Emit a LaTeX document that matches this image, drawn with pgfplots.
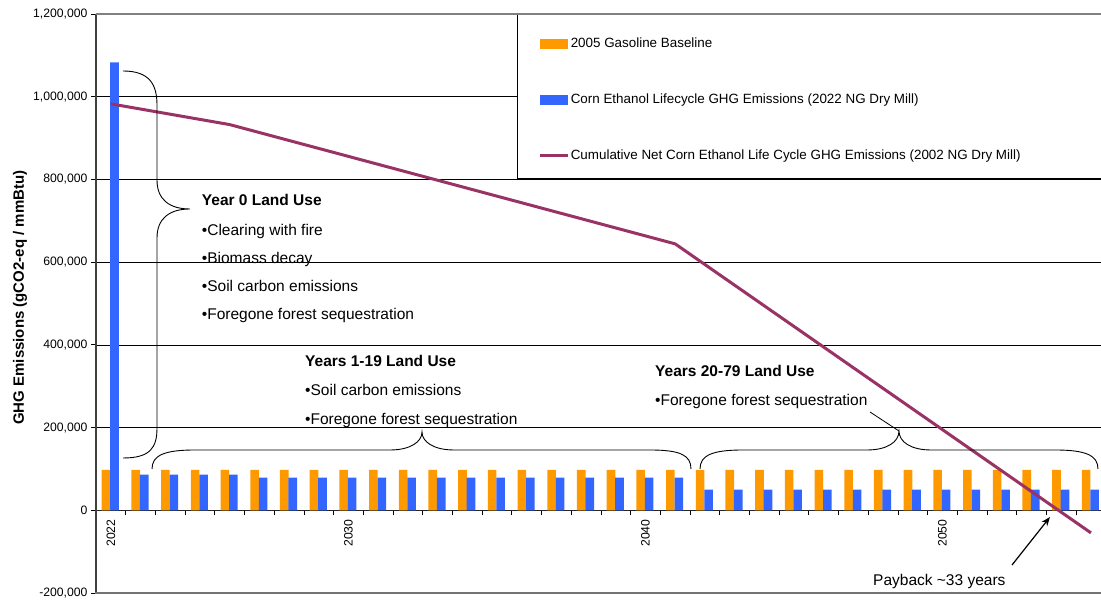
\documentclass[border=0pt]{standalone}
\usepackage{fontspec}
\setmainfont{Liberation Sans}
\usepackage{pgfplots}
\pgfplotsset{compat=1.18}
\usetikzlibrary{arrows.meta}
\definecolor{orange9}{HTML}{FF9900}
\definecolor{blue9}{HTML}{3366FF}
\definecolor{plum9}{HTML}{993366}
\newcommand{\annfont}{\fontsize{15.5bp}{18bp}\selectfont}
\begin{document}
\begin{tikzpicture}
\begin{axis}[
  name=ax, scale only axis, width=1005bp, height=579bp,
  xmin=-0.5, xmax=33.338, ymin=-200000, ymax=1200000,
  axis x line=middle, axis y line=left,
  x axis line style={-, black!85, line width=1.3bp},
  y axis line style={-, black!75, line width=1.5bp},
  xtick={0.5,1.5,...,32.5}, xticklabels={},
  extra x ticks={0,8,18,28}, extra x tick labels={2022,2030,2040,2050},
  extra x tick style={major tick length=0pt, tick label style={rotate=90, anchor=east, font=\fontsize{12.2bp}{14bp}\selectfont, inner sep=0pt, xshift=-9bp}},
  ytick={-200000,0,200000,400000,600000,800000,1000000,1200000},
  yticklabels={{-200,000},{0},{200,000},{400,000},{600,000},{800,000},{1,000,000},{1,200,000}},
  scaled y ticks=false,
  yticklabel style={font=\fontsize{12.2bp}{14bp}\selectfont},
  tick align=outside, major tick length=5bp,
  tick style={black, line width=0.8bp},
  ymajorgrids, major grid style={black, line width=0.6bp},
  ylabel={GHG Emissions (gCO2-eq / mmBtu)},
  ylabel style={font=\bfseries\fontsize{15bp}{17bp}\selectfont, at={(axis description cs:-0.0756,0.51)}, anchor=center},
  legend style={at={(rel axis cs:0.4408,0.9602)}, anchor=north west, draw=none, fill=none,
    inner sep=0pt, outer sep=0pt, font=\fontsize{13.4bp}{15bp}\selectfont, row sep=41bp,
    nodes={inner sep=0.8bp, text height=10bp, text depth=3bp}},
  legend cell align=left,
]
\draw[fill=white, draw=black, line width=0.8bp] (rel axis cs:0.4189,0.7168) rectangle (rel axis cs:1.05,1.05);
\addplot[ybar, bar width=8.6bp, bar shift=-4.8bp, fill=orange9, draw=none,
  legend image code/.code={\fill[orange9] (0bp,-5bp) rectangle (28bp,5bp);}]
  coordinates {(0,98000) (1,98000) (2,98000) (3,98000) (4,98000) (5,98000) (6,98000) (7,98000) (8,98000) (9,98000) (10,98000) (11,98000) (12,98000) (13,98000) (14,98000) (15,98000) (16,98000) (17,98000) (18,98000) (19,98000) (20,98000) (21,98000) (22,98000) (23,98000) (24,98000) (25,98000) (26,98000) (27,98000) (28,98000) (29,98000) (30,98000) (31,98000) (32,98000) (33,98000)};
\addplot[ybar, bar width=8.6bp, bar shift=3.7bp, fill=blue9, draw=none,
  legend image code/.code={\fill[blue9] (0bp,-5bp) rectangle (28bp,5bp);}]
  coordinates {(0,1083000) (1,86000) (2,86000) (3,86000) (4,86000) (5,79000) (6,79000) (7,79000) (8,79000) (9,79000) (10,79000) (11,79000) (12,79000) (13,79000) (14,79000) (15,79000) (16,79000) (17,79000) (18,79000) (19,79000) (20,50000) (21,50000) (22,50000) (23,50000) (24,50000) (25,50000) (26,50000) (27,50000) (28,50000) (29,50000) (30,50000) (31,50000) (32,50000) (33,50000)};
\addplot[plum9, line width=3bp, line join=round, mark=none,
  legend image code/.code={\draw[plum9, line width=3bp] (0bp,0bp) -- (28bp,0bp);}]
  coordinates {(0,982700) (4,932600) (19,644200) (33,-54600)};
\legend{2005 Gasoline Baseline, Corn Ethanol Lifecycle GHG Emissions (2022 NG Dry Mill), Cumulative Net Corn Ethanol Life Cycle GHG Emissions (2002 NG Dry Mill)}
\end{axis}
\begin{scope}[shift={(ax.north west)}]
\begin{scope}[x=1bp, y=-1bp, shift={(-96,-14)}]
  \draw[black!50, line width=2bp] (96,14) -- (1110,14);
  \draw[black!55, line width=2.5bp] (95,593) -- (1110,593);
  % braces
  \draw[black, line width=0.9bp] (123,71) .. controls (150,71) and (157,85) .. (157,105) -- (157,180)
     .. controls (157,200) and (170,209) .. (190,209)
     .. controls (170,209) and (157,218) .. (157,238) -- (157,428)
     .. controls (157,448) and (150,458) .. (123,458);
  \draw[black, line width=0.9bp] (152,469) .. controls (152,455) and (165,450) .. (195,450) -- (390,450)
     .. controls (410,450) and (422,442) .. (422,432)
     .. controls (422,442) and (434,450) .. (454,450) -- (650,450)
     .. controls (680,450) and (691,455) .. (691,469);
  \draw[black, line width=0.9bp] (700,469) .. controls (700,455) and (713,450) .. (743,450) -- (867,450)
     .. controls (887,450) and (899,442) .. (899,431)
     .. controls (899,442) and (911,450) .. (931,450) -- (1055,450)
     .. controls (1085,450) and (1098,455) .. (1098,469);
  \draw[black, line width=0.8bp] (870,412) -- (899,431);
  \draw[black, line width=1.2bp, -{Stealth[length=9bp,width=7bp]}] (1012,565) -- (1050,517);
  % texts
  \begin{scope}[every node/.style={anchor=base west, inner sep=0pt, font=\annfont}]
  \node at (201.7,205.5) {\bfseries Year 0 Land Use};
  \node at (201.7,235.5) {•Clearing with fire};
  \node at (201.7,263.5) {•Biomass decay};
  \node at (201.7,291.5) {•Soil carbon emissions};
  \node at (201.7,319.5) {•Foregone forest sequestration};
  \node at (305,367) {\bfseries Years 1-19 Land Use};
  \node at (305,396) {•Soil carbon emissions};
  \node at (305,424.5) {•Foregone forest sequestration};
  \node at (655,377) {\bfseries Years 20-79 Land Use};
  \node at (655,405.5) {•Foregone forest sequestration};
  \node at (873,585.5) {Payback \textasciitilde33 years};
  \end{scope}
  \pgfresetboundingbox
  \path[use as bounding box] (0,0) rectangle (1101,600);
\end{scope}
\end{scope}
\end{tikzpicture}
\end{document}
